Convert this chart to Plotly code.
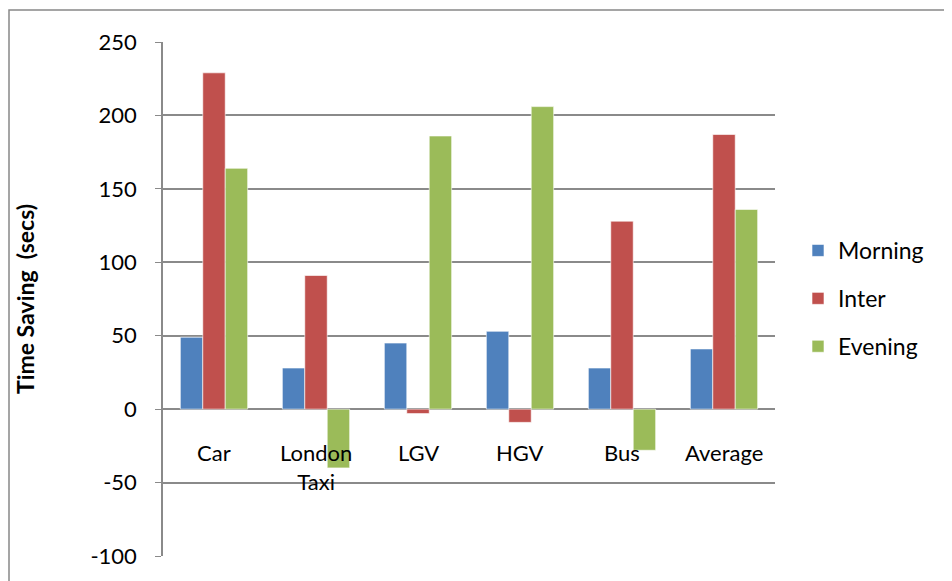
import plotly.graph_objects as go

categories = ["Car", "London Taxi", "LGV", "HGV", "Bus", "Average"]
category_labels = ["Car", "London<br>Taxi", "LGV", "HGV", "Bus", "Average"]
morning = [49, 28, 45, 53, 28, 41]
inter = [229, 91, -3, -9, 128, 187]
evening = [164, -40, 186, 206, -28, 136]
series_names = ["Morning", "Inter", "Evening"]
colors = ["#4F81BD", "#C0504D", "#9BBB59"]
y_ticks = [-100, -50, 0, 50, 100, 150, 200, 250]
y_ticktext = ["-100", "-50", "0", "50", "100", "150", "200", "250"]

FONT = "Lato, Calibri, Carlito, Arial, sans-serif"

fig = go.Figure()
for i, (name, vals) in enumerate(zip(series_names, [morning, inter, evening])):
    fig.add_trace(go.Bar(
        x=categories, y=vals, name=name,
        marker=dict(color=colors[i], line=dict(color="rgba(255,255,255,0.6)", width=1)),
        legendgroup=name,
    ))

for cat, lab in zip(categories, category_labels):
    fig.add_annotation(x=cat, y=0, xref="x", yref="y", text=lab, showarrow=False,
                       yanchor="top", yshift=-28, font=dict(family=FONT, size=22, color="#000"))

# page has an 8px body margin; figure coords = page coords - 8
W, H = 944, 573
L, R, T, B = 155, 177, 34, 25
pw, ph = W - L - R, H - T - B

def px_x(px):
    return (px - L) / pw

def px_y(py):
    return (H - B - py) / ph

fig.add_shape(type="rect", xref="paper", yref="paper",
              x0=px_x(1), x1=px_x(1000), y0=px_y(640), y1=px_y(2),
              line=dict(color="#888888", width=1.5), fillcolor="rgba(0,0,0,0)", layer="below")

fig.update_layout(
    width=W, height=H,
    margin=dict(l=L, r=R, t=T, b=B),
    paper_bgcolor="white", plot_bgcolor="white",
    barmode="group", bargap=0.34, bargroupgap=0,
    font=dict(family=FONT, size=22, color="#000"),
    showlegend=True,
    legend=dict(x=px_x(790), y=px_y(221), xanchor="left", yanchor="top",
                font=dict(family=FONT, size=23), tracegroupgap=15,
                bgcolor="rgba(0,0,0,0)"),
    xaxis=dict(showticklabels=False, showgrid=False, zeroline=False, showline=False,
               ticks=""),
    yaxis=dict(range=[-100, 250], tickvals=y_ticks, ticktext=y_ticktext, showgrid=True,
               gridcolor="#8a8a8a", gridwidth=1.5, zeroline=True, zerolinecolor="#8a8a8a",
               zerolinewidth=1.5, showline=True, linecolor="#8a8a8a", linewidth=1.5,
               ticks="outside", ticklen=6, tickcolor="#8a8a8a", ticklabelstandoff=14,
               tickfont=dict(family=FONT, size=22),
               title=dict(text="<b>Time Saving  (secs)</b>", standoff=49,
                          font=dict(family=FONT, size=23))),
)

fig.write_html("out.html")
